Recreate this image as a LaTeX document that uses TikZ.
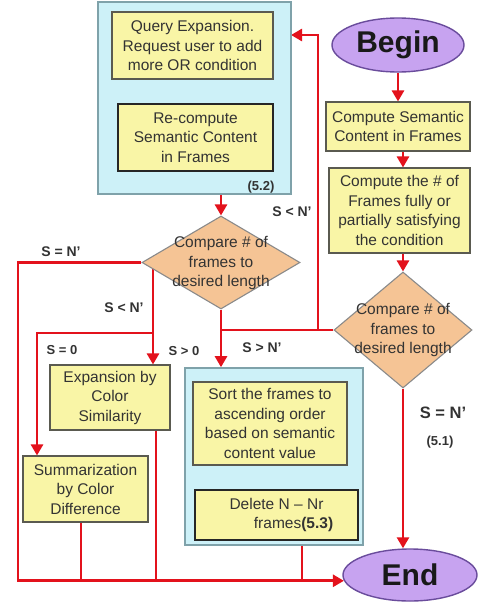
\documentclass[tikz,border=0pt]{standalone}
\usepackage{fontspec}
\setmainfont{Liberation Sans}
\usetikzlibrary{arrows.meta,shapes.geometric}
\definecolor{cyanfill}{HTML}{CDF1F8}
\definecolor{cyanline}{HTML}{7FA2AA}
\definecolor{yel}{HTML}{F9F5A6}
\definecolor{yelline}{HTML}{5A5A50}
\definecolor{peach}{HTML}{F5C495}
\definecolor{peachline}{HTML}{8A8A8A}
\definecolor{lav}{HTML}{C7A3F0}
\definecolor{lavline}{HTML}{6A4C9C}
\definecolor{redl}{HTML}{E3121C}
\definecolor{txt}{HTML}{333333}
\newcommand\myfs{\fontsize{15.5}{19.5}\selectfont}
\pgfdeclarelayer{paper}
\pgfdeclarelayer{background}
\pgfsetlayers{paper,background,main}
\tikzset{
  cyanbox/.style={draw=cyanline, line width=1.6pt, fill=cyanfill, inner sep=0pt},
  ybox/.style={draw=yelline, line width=1.1pt, fill=yel, align=center, font=\myfs, text=txt, inner sep=0pt},
  kbox/.style={ybox, draw=black!85, line width=2.2pt},
  dia/.style={shape=diamond, draw=peachline, line width=1.1pt, fill=peach, inner sep=0pt},
  oval/.style={shape=ellipse, draw=lavline, line width=1.4pt, fill=lav, inner sep=0pt, font=\fontsize{30}{32}\selectfont\bfseries, text=black!90},
  lbl/.style={font=\fontsize{14}{16}\selectfont\bfseries, text=txt, inner sep=0pt},
  slbl/.style={font=\fontsize{13}{15}\selectfont\bfseries, text=txt, inner sep=0pt},
  ln/.style={draw=redl, line width=2.6pt},
  arr/.style={ln, -{Triangle[length=11pt,width=12pt]}},
}
\begin{document}
\begin{tikzpicture}[x=1pt,y=-1pt]
\begin{pgfonlayer}{paper}
\path[use as bounding box, fill=white] (0,0) rectangle (477,603);
\end{pgfonlayer}

% containers
\node[cyanbox, minimum width=193pt, minimum height=192pt] (bigcyan) at (194.5,98) {};
\node[cyanbox, minimum width=178pt, minimum height=177pt] (cyan2) at (274,456.5) {};

% boxes
\node[ybox, minimum width=161pt, minimum height=67pt] (query) at (192.5,45.5) {Query Expansion.\\Request user to add\\more OR condition};
\node[kbox, minimum width=155pt, minimum height=67pt] (recomp) at (195.5,137.5) {Re-compute\\Semantic Content\\in Frames};
\node[font=\fontsize{13}{15}\selectfont\bfseries, text=txt] (l52) at (261,187) {(5.2)};

\node[oval, minimum width=132pt, minimum height=54pt] (begin) at (398,45) {Begin};
\node[ybox, minimum width=144pt, minimum height=49pt] (cs) at (398,126.5) {Compute Semantic\\Content in Frames};
\node[ybox, minimum width=141pt, minimum height=85pt] (cf) at (399.5,210.5) {Compute the \# of\\Frames fully or\\partially satisfying\\the condition};

\node[dia, minimum width=138pt, minimum height=116pt] (d2) at (403,330) {};
\node[font=\myfs, align=center, text=txt] (d2t) at (d2) {Compare \# of\\frames to\\desired length};

\node[dia, minimum width=158pt, minimum height=93pt] (d1) at (221,262.5) {};
\node[font=\myfs, align=center, text=txt] (d1t) at (221,263) {Compare \# of\\frames to\\desired length};

\node[oval, minimum width=134pt, minimum height=52pt] (end) at (410,575) {End};

\node[ybox, minimum width=120pt, minimum height=65pt] (expbox) at (110,397.5) {Expansion by\\Color\\Similarity};
\node[ybox, minimum width=125pt, minimum height=66pt] (sumbox) at (85.5,489) {Summarization\\by Color\\Difference};

\node[ybox, minimum width=154pt, minimum height=83pt] (sort) at (270,423.5) {Sort the frames to\\ascending order\\based on semantic\\content value};
\node[kbox, minimum width=163pt, minimum height=50pt] (delete) at (276.5,515) {Delete N – Nr\\\hspace*{2.2em}frames\textbf{(5.3)}};

% labels
\node[lbl] (la) at (292,212) {S < N'};
\node[lbl] (lb) at (262,348) {S > N'};
\node[lbl] (lc) at (61,252) {S = N'};
\node[lbl] (ld) at (124,308) {S < N'};
\node[slbl] (le) at (62,350) {S = 0};
\node[slbl] (lf) at (184,351) {S > 0};
\node[lbl, font=\fontsize{16.5}{18}\selectfont\bfseries] (lg) at (443,413) {S = N'};
\node[slbl] (lh) at (440,442) {(5.1)};

% coordinates
\coordinate (c1) at (318,330);
\coordinate (qin) at (291,35);
\coordinate (xl) at (18,0);
\coordinate (xs) at (153,0);
\coordinate (s0) at (37,333);
\coordinate (xe) at (156,0);
\coordinate (xsum) at (81,0);
\coordinate (xc) at (302,0);
\coordinate (xsd) at (229,0);

\begin{pgfonlayer}{background}
\draw[arr] (query.south) -- (query.south |- recomp.north);
\draw[arr] (d1.north |- bigcyan.south) -- (d1.north);
\draw[arr] (begin.south) -- (begin.south |- cs.north);
\draw[arr] (d2.north |- cs.south) -- (d2.north |- cf.north);
\draw[arr] (d2.north |- cf.south) -- (d2.north);
\draw[arr] (d2.south) -- (d2.south |- end.north);
\draw[arr] (d2.west) -- (c1) |- (qin);
\draw[ln] (c1) -- (c1 -| d1.south);
\draw[arr] (d1.south) -- (d1.south |- cyan2.north);
\draw[arr] (d1.west) -- (d1.west -| xl) |- (end.185);
\draw[arr] (d1.west -| xs) -- (xs |- expbox.north);
\draw[arr] (xs |- s0) -- (s0) -- (s0 |- sumbox.north);
\draw[ln] (xe |- expbox.south) -- (xe |- end.185);
\draw[ln] (xsum |- sumbox.south) -- (xsum |- end.185);
\draw[ln] (xc |- cyan2.south) -- (xc |- end.185);
\draw[arr] (xsd |- sort.south) -- (xsd |- delete.north);
\end{pgfonlayer}
\end{tikzpicture}
\end{document}
